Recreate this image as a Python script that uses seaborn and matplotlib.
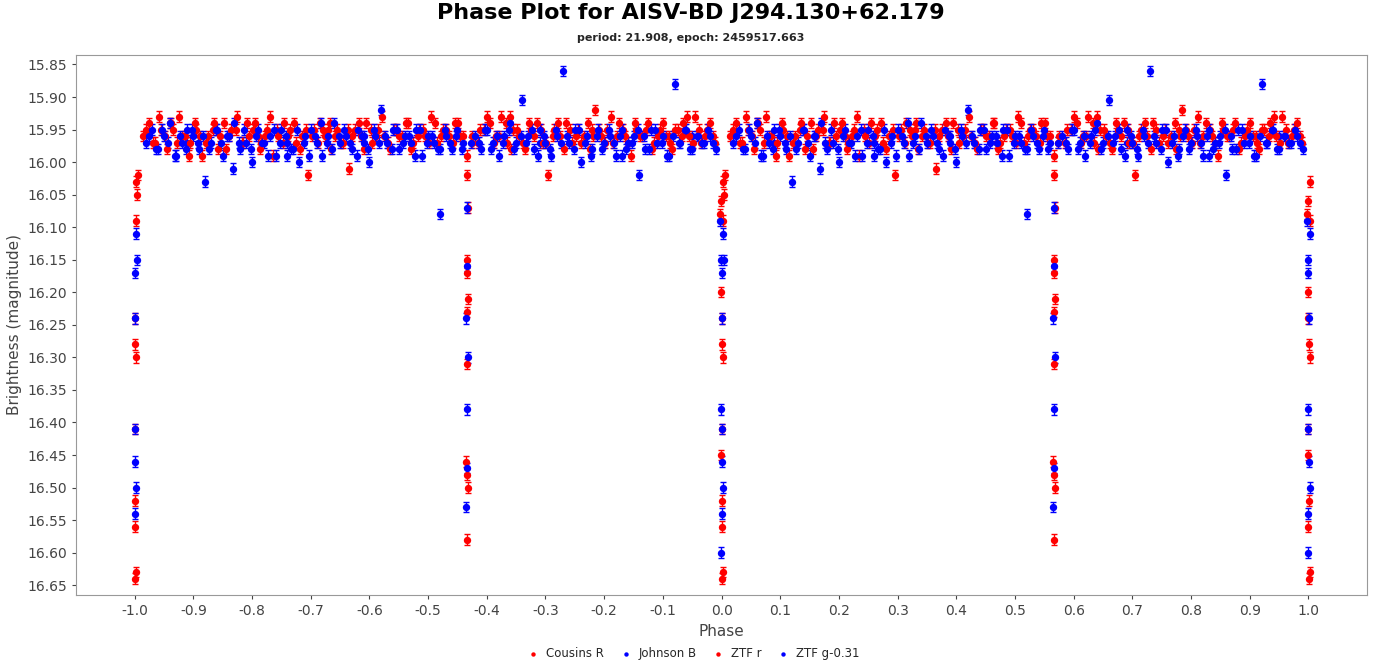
import matplotlib.pyplot as plt
import numpy as np
import seaborn as sns

TITLE = "Phase Plot for AISV-BD J294.130+62.179"
SUBTITLE = "period: 21.908, epoch: 2459517.663"

# phases in [0, 1); the plot shows each point at phase and phase-1
ztf_r_phase = [
    0.015, 0.025, 0.035, 0.045, 0.055, 0.065, 0.075, 0.085, 0.095, 0.105,
    0.115, 0.125, 0.135, 0.145, 0.155, 0.165, 0.175, 0.185, 0.195, 0.205,
    0.215, 0.225, 0.235, 0.245, 0.255, 0.265, 0.275, 0.285, 0.295, 0.305,
    0.315, 0.325, 0.335, 0.345, 0.355, 0.365, 0.375, 0.385, 0.395, 0.405,
    0.415, 0.425, 0.435, 0.445, 0.455, 0.465, 0.475, 0.485, 0.495, 0.505,
    0.515, 0.525, 0.535, 0.545, 0.555, 0.585, 0.595, 0.605, 0.615, 0.625,
    0.635, 0.645, 0.655, 0.665, 0.675, 0.685, 0.695, 0.705, 0.715, 0.725,
    0.735, 0.745, 0.755, 0.765, 0.775, 0.785, 0.795, 0.805, 0.815, 0.825,
    0.835, 0.845, 0.855, 0.865, 0.875, 0.885, 0.895, 0.905, 0.915, 0.925,
    0.935, 0.945, 0.955, 0.965, 0.975, 0.985,
    # second pass through the band
    0.019, 0.031, 0.042, 0.051, 0.062, 0.073, 0.081, 0.092, 0.103, 0.112,
    0.121, 0.133, 0.142, 0.153, 0.161, 0.172, 0.183, 0.191, 0.202, 0.213,
    0.222, 0.231, 0.243, 0.252, 0.261, 0.272, 0.281, 0.292, 0.303, 0.312,
    0.321, 0.332, 0.341, 0.352, 0.363, 0.371, 0.382, 0.391, 0.402, 0.411,
    0.422, 0.431, 0.442, 0.451, 0.462, 0.471, 0.482, 0.491, 0.502, 0.511,
    0.522, 0.531, 0.542, 0.551, 0.559, 0.589, 0.601, 0.612, 0.621, 0.632,
    0.641, 0.652, 0.661, 0.672, 0.681, 0.692, 0.701, 0.712, 0.721, 0.732,
    0.741, 0.752, 0.761, 0.772, 0.781, 0.792, 0.801, 0.812, 0.821, 0.832,
    0.841, 0.852, 0.861, 0.872, 0.881, 0.892, 0.901, 0.912, 0.921, 0.932,
    0.941, 0.952, 0.961, 0.972, 0.981, 0.989,
    # primary eclipse
    0.999, 0.998, 0.999, 0.0, 0.001, 0.002, 0.0, 0.999, 0.001, 0.0, 0.002, 0.001,
    0.003, 0.004, 0.003, 0.005,
    # secondary eclipse
    0.567, 0.568, 0.566, 0.567, 0.568, 0.567, 0.566, 0.565, 0.567, 0.568, 0.567, 0.566,
    0.574, 0.575,
]
ztf_r_mag = [
    15.96, 15.94, 15.97, 15.95, 15.98, 15.95, 15.93, 15.96, 15.97, 15.95,
    15.99, 15.96, 15.94, 15.96, 15.98, 15.95, 15.93, 15.97, 15.96, 15.94,
    15.97, 15.95, 15.99, 15.96, 15.94, 15.95, 15.97, 15.96, 16.02, 15.95,
    15.94, 15.96, 15.98, 15.95, 15.97, 16.01, 15.95, 15.96, 15.94, 15.97,
    15.95, 15.96, 15.98, 15.95, 15.96, 15.94, 15.97, 15.95, 15.96, 15.93,
    15.97, 15.95, 15.96, 15.94, 15.96, 15.97, 15.95, 15.94, 15.96, 15.93,
    15.97, 15.95, 15.96, 15.98, 15.95, 15.94, 15.97, 16.02, 15.95, 15.96,
    15.94, 15.97, 15.95, 15.96, 15.98, 15.92, 15.96, 15.95, 15.97, 15.94,
    15.96, 15.99, 15.95, 15.96, 15.94, 15.97, 15.95, 15.96, 15.98, 15.95,
    15.94, 15.96, 15.93, 15.97, 15.95, 15.96,
    15.95, 15.97, 15.93, 15.96, 15.94, 15.97, 15.96, 15.99, 15.94, 15.96,
    15.97, 15.95, 15.98, 15.94, 15.96, 15.95, 15.97, 15.94, 15.95, 15.98,
    15.96, 15.93, 15.95, 15.97, 15.96, 15.94, 15.98, 15.95, 15.96, 15.97,
    15.95, 15.94, 15.96, 15.97, 15.95, 15.96, 15.94, 15.98, 15.95, 15.96,
    15.93, 15.97, 15.95, 15.96, 15.94, 15.98, 15.96, 15.95, 15.97, 15.94,
    15.96, 15.95, 15.97, 15.94, 15.96, 15.95, 15.93, 15.97, 15.96, 15.94,
    15.98, 15.95, 15.97, 15.94, 15.96, 15.95, 15.97, 15.96, 15.94, 15.98,
    15.95, 15.96, 15.97, 15.94, 15.96, 15.95, 15.97, 15.93, 15.96, 15.95,
    15.97, 15.94, 15.96, 15.95, 15.98, 15.96, 15.94, 15.97, 15.95, 15.96,
    15.93, 15.97, 15.95, 15.96, 15.94, 15.97,
    16.06, 16.08, 16.20, 16.24, 16.28, 16.30, 16.41, 16.45, 16.52, 16.56, 16.63, 16.64,
    16.03, 16.05, 16.09, 16.02,
    16.02, 16.07, 16.15, 16.17, 16.21, 16.23, 16.31, 16.46, 16.48, 16.50, 16.58, 15.99,
    15.97, 15.96,
]
ztf_g_phase = [
    0.020, 0.030, 0.040, 0.050, 0.060, 0.070, 0.080, 0.090, 0.100, 0.110,
    0.120, 0.130, 0.140, 0.150, 0.160, 0.170, 0.180, 0.190, 0.200, 0.210,
    0.220, 0.230, 0.240, 0.250, 0.260, 0.270, 0.280, 0.290, 0.300, 0.310,
    0.320, 0.330, 0.340, 0.350, 0.360, 0.370, 0.380, 0.390, 0.400, 0.410,
    0.420, 0.430, 0.440, 0.450, 0.460, 0.470, 0.480, 0.490, 0.500, 0.510,
    0.520, 0.530, 0.540, 0.550, 0.560, 0.580, 0.590, 0.600, 0.610, 0.620,
    0.630, 0.640, 0.650, 0.660, 0.670, 0.680, 0.690, 0.700, 0.710, 0.720,
    0.730, 0.740, 0.750, 0.760, 0.770, 0.780, 0.790, 0.800, 0.810, 0.820,
    0.830, 0.840, 0.850, 0.860, 0.870, 0.880, 0.890, 0.900, 0.910, 0.920,
    0.930, 0.940, 0.950, 0.960, 0.970, 0.980, 0.990,
    # second pass through the band
    0.024, 0.037, 0.046, 0.057, 0.068, 0.077, 0.087, 0.097, 0.108, 0.117,
    0.127, 0.138, 0.147, 0.157, 0.168, 0.177, 0.187, 0.198, 0.207, 0.217,
    0.228, 0.237, 0.247, 0.258, 0.267, 0.277, 0.288, 0.297, 0.307, 0.318,
    0.327, 0.337, 0.348, 0.357, 0.367, 0.378, 0.387, 0.397, 0.408, 0.417,
    0.427, 0.438, 0.447, 0.457, 0.468, 0.477, 0.487, 0.498, 0.507, 0.517,
    0.528, 0.537, 0.547, 0.557, 0.587, 0.597, 0.607, 0.617, 0.628, 0.637,
    0.647, 0.658, 0.667, 0.677, 0.688, 0.697, 0.707, 0.718, 0.727, 0.737,
    0.748, 0.757, 0.767, 0.778, 0.787, 0.797, 0.808, 0.817, 0.827, 0.838,
    0.847, 0.857, 0.868, 0.877, 0.887, 0.898, 0.907, 0.917, 0.928, 0.937,
    0.947, 0.958, 0.967, 0.977, 0.986,
    # primary eclipse
    0.998, 0.999, 0.0, 0.001, 0.999, 0.0, 0.001, 0.002, 0.0, 0.999, 0.003, 0.004,
    # secondary eclipse
    0.566, 0.567, 0.565, 0.568, 0.567, 0.566, 0.565, 0.573,
]
ztf_g_mag = [
    15.97, 15.95, 15.98, 15.96, 15.94, 15.99, 15.97, 15.95, 15.96, 15.98,
    16.03, 15.97, 15.95, 15.99, 15.96, 15.94, 15.98, 15.97, 16.00, 15.95,
    15.97, 15.96, 15.99, 15.95, 15.97, 15.98, 16.00, 15.96, 15.95, 15.97,
    15.99, 15.96, 15.94, 15.97, 15.96, 15.98, 15.95, 15.97, 16.00, 15.96,
    15.92, 15.97, 15.95, 15.98, 15.96, 15.97, 15.95, 15.99, 15.96, 15.97,
    16.08, 15.96, 15.98, 15.95, 15.97, 15.96, 15.98, 15.95, 15.97, 15.99,
    15.96, 15.94, 15.97, 15.905, 15.96, 15.98, 15.95, 15.97, 15.99, 15.96,
    15.86, 15.97, 15.95, 16.00, 15.96, 15.98, 15.95, 15.97, 15.96, 15.99,
    15.95, 15.97, 15.96, 16.02, 15.98, 15.95, 15.97, 15.96, 15.99, 15.88,
    15.97, 15.95, 15.98, 15.96, 15.97, 15.96, 15.98,
    15.96, 15.98, 15.95, 15.97, 15.99, 15.96, 15.98, 15.95, 15.97, 15.96,
    15.98, 15.95, 15.97, 15.96, 16.01, 15.97, 15.95, 15.98, 15.96, 15.97,
    15.99, 15.95, 15.97, 15.96, 15.98, 15.95, 15.97, 15.99, 15.96, 15.94,
    15.97, 15.98, 15.96, 15.95, 15.97, 15.99, 15.96, 15.98, 15.95, 15.97,
    15.96, 15.98, 15.95, 15.97, 15.96, 15.99, 15.95, 15.97, 15.96, 15.98,
    15.95, 15.97, 15.96, 15.98, 15.97, 15.95, 15.98, 15.96, 15.97, 15.95,
    15.98, 15.96, 15.97, 15.95, 15.99, 15.96, 15.98, 15.95, 15.97, 15.96,
    15.98, 15.95, 15.97, 15.99, 15.96, 15.98, 15.95, 15.97, 15.96, 15.98,
    15.97, 15.95, 15.96, 15.98, 15.95, 15.97, 15.99, 15.96, 15.97, 15.95,
    15.98, 15.96, 15.97, 15.95, 15.97,
    16.09, 16.15, 16.17, 16.24, 16.38, 16.41, 16.46, 16.50, 16.54, 16.60, 16.11, 16.15,
    16.07, 16.16, 16.24, 16.30, 16.38, 16.47, 16.53, 15.97,
]
cousins_r_phase = [0.06, 0.21, 0.33, 0.47, 0.64, 0.78, 0.91]
cousins_r_mag = [15.94, 15.96, 15.95, 15.97, 15.93, 15.95, 15.96]
johnson_b_phase = [0.09, 0.26, 0.39, 0.52, 0.69, 0.83, 0.95]
johnson_b_mag = [15.97, 15.99, 15.96, 15.98, 15.97, 15.99, 15.96]

X_TICKS = [round(-1.0 + 0.1 * i, 1) for i in range(21)]
Y_TICKS = [15.85, 15.90, 15.95, 16.00, 16.05, 16.10, 16.15, 16.20, 16.25, 16.30,
           16.35, 16.40, 16.45, 16.50, 16.55, 16.60, 16.65]

RED = "#ff0000"
BLUE = "#0000ff"


def unfold(phase, mag):
    """Show every point at phase-1, phase and phase+1 within [-1, 1]."""
    p = np.asarray(phase)
    m = np.asarray(mag)
    xs = np.concatenate([p - 1, p, p + 1])
    ys = np.concatenate([m, m, m])
    keep = (xs >= -1.003) & (xs <= 1.003)
    return xs[keep], ys[keep]


sns.set_style("white")
fig = plt.figure(figsize=(13.81, 6.67), dpi=100)
ax = fig.add_axes([0.055, 0.108, 0.935, 0.81])

series = [
    ("Cousins R", cousins_r_phase, cousins_r_mag, RED),
    ("Johnson B", johnson_b_phase, johnson_b_mag, BLUE),
    ("ZTF r", ztf_r_phase, ztf_r_mag, RED),
    ("ZTF g-0.31", ztf_g_phase, ztf_g_mag, BLUE),
]
for label, ph, mg, col in series:
    x, y = unfold(ph, mg)
    ax.errorbar(x, y, yerr=0.008, fmt="none", ecolor=col, elinewidth=1,
                capsize=2.5, zorder=2)
    sns.scatterplot(x=x, y=y, ax=ax, color=col, s=28, edgecolor=col,
                    linewidth=0, label=label, zorder=3)

ax.set_xlim(-1.1, 1.1)
ax.set_ylim(16.665, 15.835)
ax.set_xticks(X_TICKS)
ax.set_xticklabels([f"{t:.1f}" for t in X_TICKS])
ax.set_yticks(Y_TICKS)
ax.set_yticklabels([f"{t:.2f}" for t in Y_TICKS])
ax.tick_params(axis="both", labelsize=10, colors="#444444", length=3,
               direction="out", bottom=True, left=True)
for s in ax.spines.values():
    s.set_color("#999999")
ax.set_xlabel("Phase", fontsize=11, color="#444444")
ax.set_ylabel("Brightness (magnitude)", fontsize=11, color="#444444")

fig.suptitle(TITLE, y=0.995, fontsize=16, fontweight="bold", color="black")
fig.text(0.5, 0.938, SUBTITLE, ha="center", fontsize=8, fontweight="bold")

ax.legend_.remove()
handles, labels = ax.get_legend_handles_labels()
fig.legend(handles, labels, loc="lower center", ncol=4, frameon=False,
           fontsize=8.5, handletextpad=0.1, columnspacing=0.8,
           markerscale=0.6, bbox_to_anchor=(0.5, -0.005))

fig.savefig("out.png", dpi=100)
